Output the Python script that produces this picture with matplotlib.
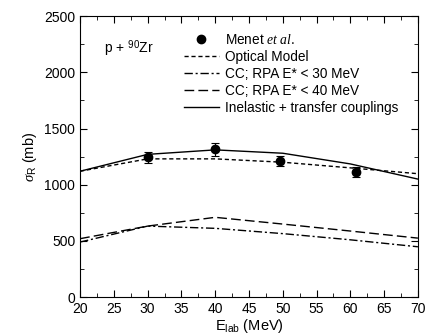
import numpy as np
import matplotlib.pyplot as plt
from matplotlib.ticker import MultipleLocator
from matplotlib.lines import Line2D

plt.rcParams['font.family'] = ['Liberation Sans', 'DejaVu Sans']
plt.rcParams['mathtext.fontset'] = 'custom'
plt.rcParams['mathtext.rm'] = 'Liberation Sans'
plt.rcParams['mathtext.it'] = 'Liberation Serif:italic'

# data
e_exp = [30.0, 40.0, 49.6, 60.9]
sig_exp = [1245, 1315, 1210, 1113]
err_exp = [50, 60, 45, 45]

e_calc = [20, 30, 40, 50, 60, 70]
optical = [1120, 1230, 1230, 1200, 1150, 1098]
cc30 = [490, 632, 612, 565, 510, 448]
cc40 = [520, 632, 710, 650, 588, 525]
inel = [1120, 1270, 1310, 1280, 1185, 1050]

fig = plt.figure(figsize=(4.26, 3.35), dpi=100)
ax = fig.add_axes([0.188, 0.113, 0.793, 0.839])

l_opt, = ax.plot(e_calc, optical, 'k--', lw=1.0, dashes=(3, 2))
l_30, = ax.plot(e_calc, cc30, 'k-.', lw=1.0, dashes=(6, 2, 1.5, 2))
l_40, = ax.plot(e_calc, cc40, 'k--', lw=1.0, dashes=(7, 3))
l_in, = ax.plot(e_calc, inel, 'k-', lw=1.0)
ax.errorbar(e_exp, sig_exp, yerr=err_exp, fmt='o', color='k', ms=6,
            capsize=3, elinewidth=0.8, capthick=0.8)

# legend: data entry shows only the dot, like the original
dot = Line2D([], [], ls='none', marker='o', color='k', ms=6)
ax.legend([dot, l_opt, l_30, l_40, l_in],
          [r'Menet $et\ al$.', 'Optical Model', 'CC; RPA E* < 30 MeV',
           'CC; RPA E* < 40 MeV', 'Inelastic + transfer couplings'],
          loc='upper right', bbox_to_anchor=(0.973, 0.979), frameon=False,
          fontsize=9.8, handlelength=2.6, handletextpad=0.4,
          labelspacing=0.22, borderaxespad=0.4)

ax.text(0.07, 0.87, r'p + $^{90}$Zr', transform=ax.transAxes, fontsize=10)

ax.set_xlim(20, 70)
ax.set_ylim(0, 2500)
ax.xaxis.set_major_locator(MultipleLocator(5))
ax.xaxis.set_minor_locator(MultipleLocator(2.5))
ax.yaxis.set_major_locator(MultipleLocator(500))
ax.yaxis.set_minor_locator(MultipleLocator(250))
ax.tick_params(which='both', direction='in', top=True, right=True, labelsize=10)
ax.tick_params(which='major', length=5)
ax.tick_params(which='minor', length=3)

ax.set_xlabel(r'E$_{\rm lab}$ (MeV)', fontsize=10.5, labelpad=1)
ax.set_ylabel(r'$\sigma_{\rm R}$ (mb)', fontsize=10.5, labelpad=4)

fig.savefig('out.png', dpi=100)
